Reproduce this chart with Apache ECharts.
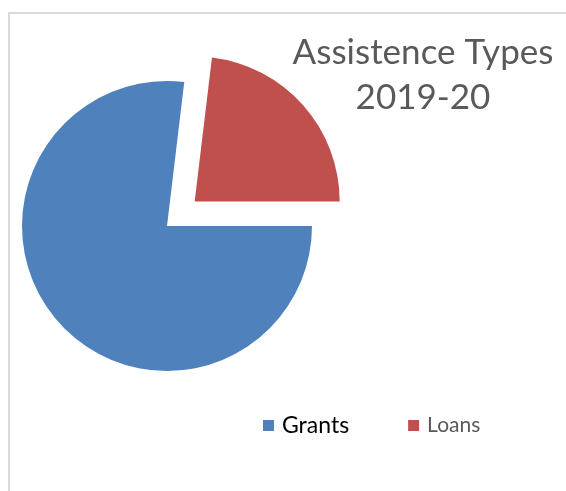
<!DOCTYPE html>
<html>
<head>
<meta charset="utf-8">
<script src="https://cdn.jsdelivr.net/npm/echarts@6/dist/echarts.min.js"></script>
<style>
  html, body { margin: 0; padding: 0; background: #fff; }
  #main { width: 566px; height: 491px; }
</style>
</head>
<body>
<div id="main"></div>
<script>
// data
var categories = ['Grants', 'Loans'];
var shares = [76.9, 23.1];
var colors = ['#4F81BD', '#C0504D'];

var chart = echarts.init(document.getElementById('main'));

var pieData = [];
for (var i = 0; i < categories.length; i++) {
  pieData.push({
    name: categories[i],
    value: shares[i],
    selected: categories[i] === 'Loans',
    itemStyle: { color: colors[i] }
  });
}

chart.setOption({
  animation: false,
  graphic: [
    {
      type: 'rect',
      shape: { x: 9, y: 13, width: 700, height: 700 },
      style: { fill: 'none', stroke: '#d9d9d9', lineWidth: 2 },
      silent: true
    }
  ],
  title: {
    text: 'Assistence Types\n2019-20',
    left: 418,
    top: 25,
    textAlign: 'center',
    textStyle: {
      fontFamily: 'Lato',
      fontWeight: 'normal',
      fontSize: 35,
      lineHeight: 45,
      color: '#595959'
    }
  },
  legend: {
    left: 258,
    top: 409,
    itemWidth: 11,
    itemHeight: 11,
    itemGap: 59,
    icon: 'rect',
    data: [
      { name: 'Grants', textStyle: { color: '#000000', fontSize: 23 } },
      { name: 'Loans', textStyle: { color: '#595959', fontSize: 21 } }
    ],
    textStyle: { fontFamily: 'Lato', padding: [0, 0, 0, 3] }
  },
  series: [
    {
      type: 'pie',
      center: [167, 226],
      radius: 145,
      startAngle: 0,
      clockwise: true,
      selectedMode: 'single',
      selectedOffset: 37,
      label: { show: false },
      labelLine: { show: false },
      emphasis: { disabled: true },
      data: pieData
    }
  ]
});
</script>
</body>
</html>
